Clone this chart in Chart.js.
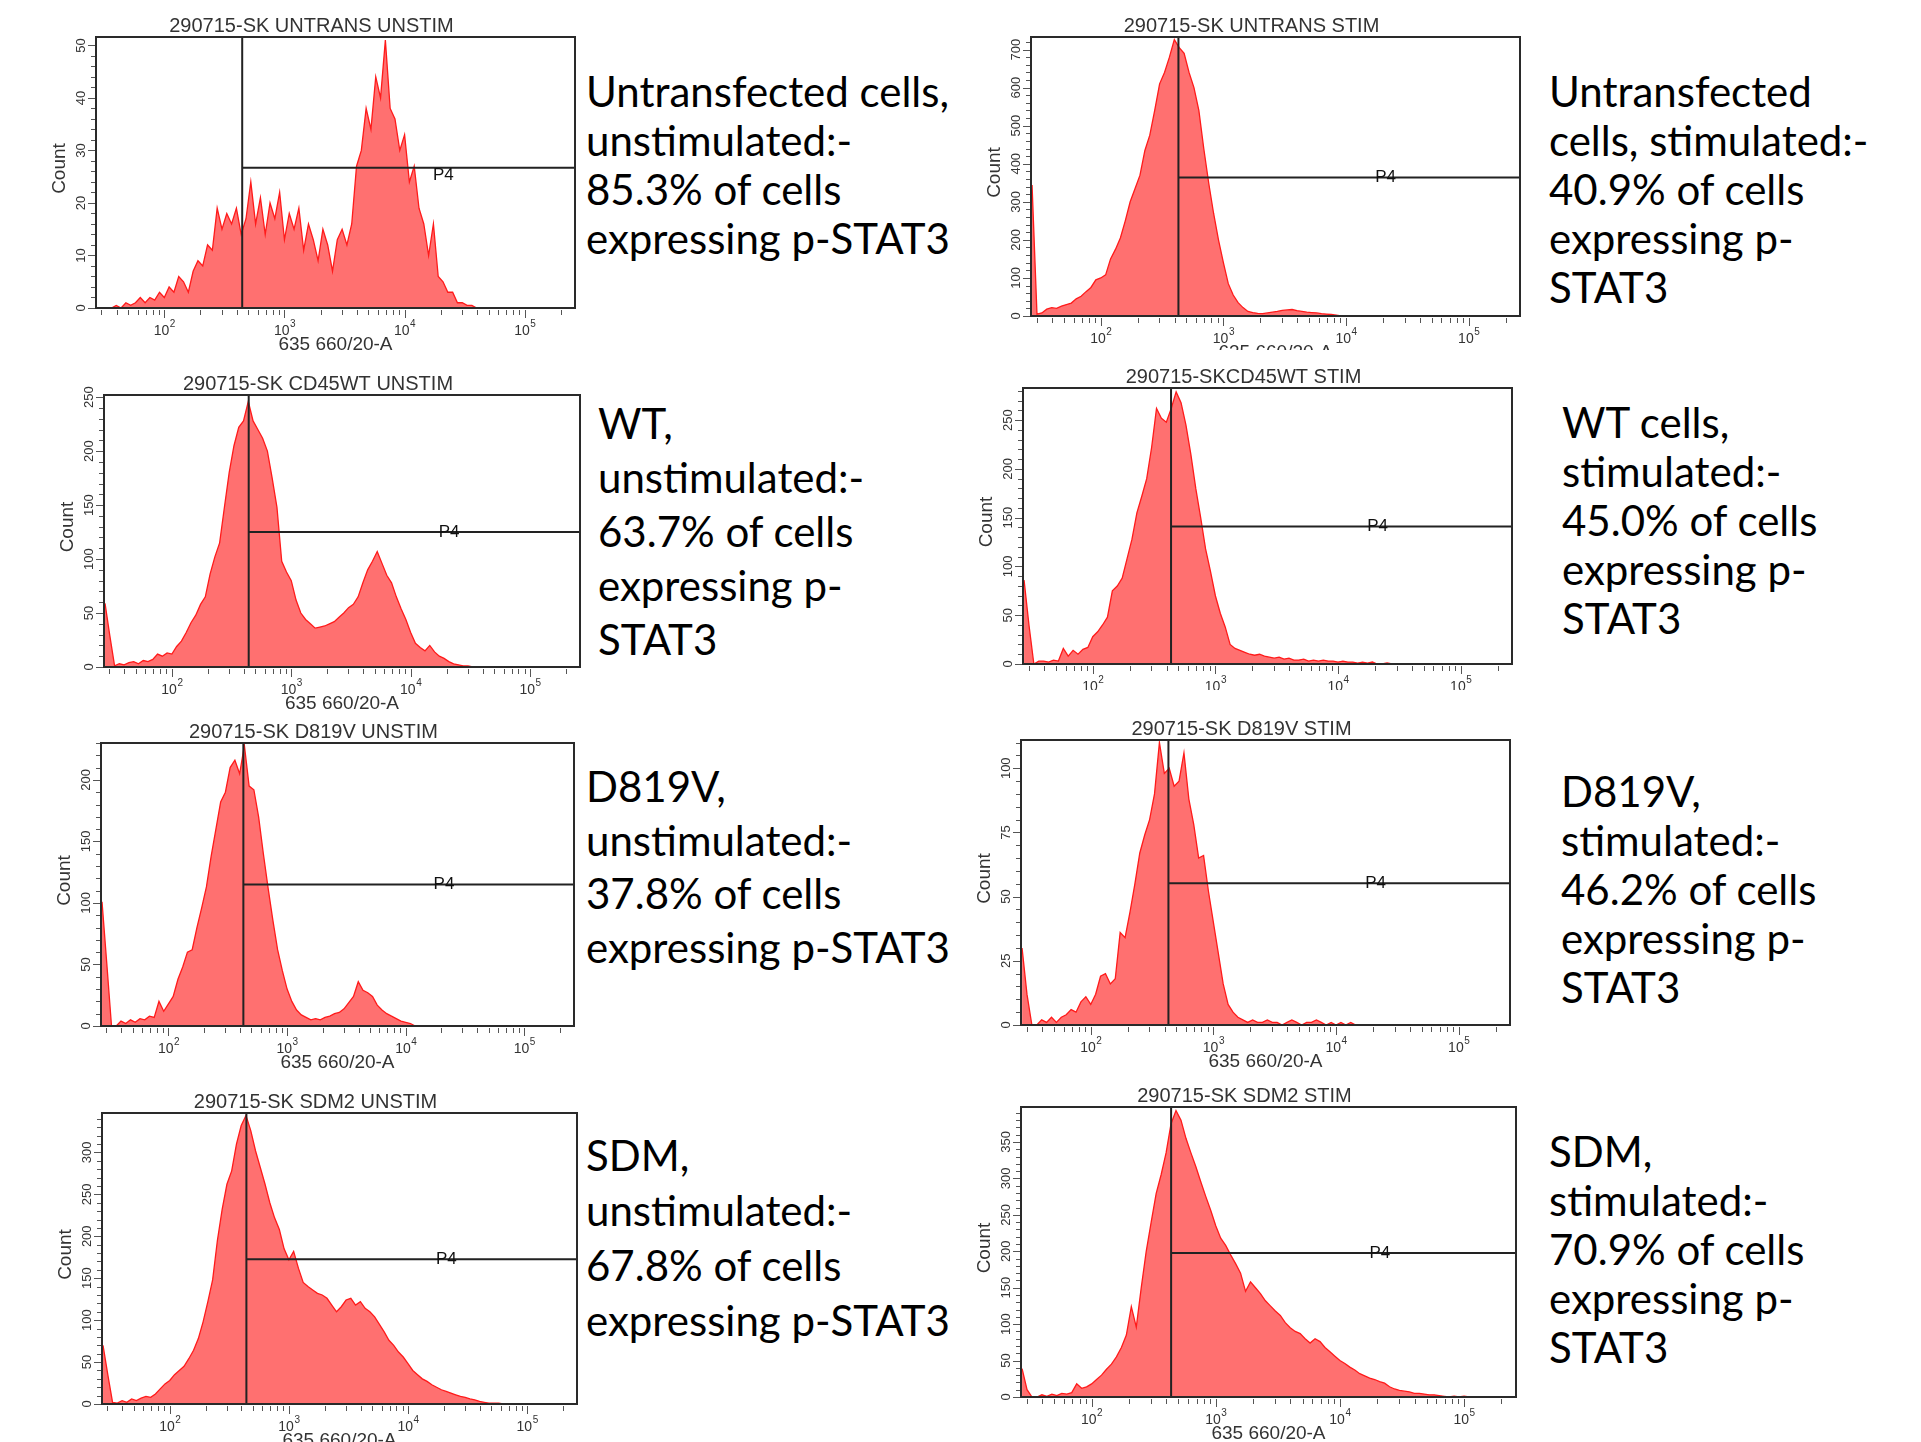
<!DOCTYPE html>
<html>
<head>
<meta charset="utf-8">
<script src="https://cdn.jsdelivr.net/npm/chart.js@4.4.1/dist/chart.umd.min.js"></script>
<style>
  html, body { margin: 0; padding: 0; background: #fff; }
  body { width: 1921px; height: 1442px; position: relative; overflow: hidden; }
  canvas { position: absolute; }
  .note { position: absolute; font-family: Lato, sans-serif; font-size: 42px; color: #000; white-space: pre; }
</style>
</head>
<body>
<script>
// histogram bin centres, log10 of 635 660/20-A
const binLog = [
  1.44, 1.48, 1.52, 1.56, 1.60, 1.64, 1.68, 1.72, 1.76, 1.80,
  1.84, 1.88, 1.92, 1.96, 2.00, 2.04, 2.08, 2.12, 2.16, 2.20,
  2.24, 2.28, 2.32, 2.36, 2.40, 2.44, 2.48, 2.52, 2.56, 2.60,
  2.64, 2.68, 2.72, 2.76, 2.80, 2.84, 2.88, 2.92, 2.96, 3.00,
  3.04, 3.08, 3.12, 3.16, 3.20, 3.24, 3.28, 3.32, 3.36, 3.40,
  3.44, 3.48, 3.52, 3.56, 3.60, 3.64, 3.68, 3.72, 3.76, 3.80,
  3.84, 3.88, 3.92, 3.96, 4.00, 4.04, 4.08, 4.12, 4.16, 4.20,
  4.24, 4.28, 4.32, 4.36, 4.40, 4.44, 4.48, 4.52, 4.56, 4.60,
  4.64, 4.68, 4.72, 4.76, 4.80, 4.84, 4.88, 4.92, 4.96, 5.00, 5.04
];

const titles = [
  "290715-SK UNTRANS UNSTIM", "290715-SK UNTRANS STIM",
  "290715-SK CD45WT UNSTIM", "290715-SKCD45WT STIM",
  "290715-SK D819V UNSTIM", "290715-SK D819V STIM",
  "290715-SK SDM2 UNSTIM", "290715-SK SDM2 STIM"
];
const xTitle = "635 660/20-A";
const xMin = 27;
const xMax = 262144;
const yMax = [51.6, 733, 252, 283, 230, 111, 347, 398];
const yStep = [10, 100, 50, 50, 50, 25, 50, 50];
const gateStart = [445, 430, 440, 435, 428, 430, 440, 437];
const gateLevel = [26.7, 364, 125, 141, 115, 55.2, 172.6, 197.6];
const gateName = "P4";
const gateLabelAt = 21000;

const counts1 = [0, 0, 0, 0, 0.5, 0, 1, 0.5, 1, 2,
  1, 2, 1.5, 3, 2, 4, 3, 6, 5, 3,
  7, 9, 8, 12, 11, 19, 15, 18, 16, 19,
  14, 17, 24, 16, 21, 14, 20, 17, 22, 13,
  18, 15, 19, 11, 16, 13, 9, 15, 12, 7,
  13, 15, 12, 16, 27, 30, 38, 34, 44, 40,
  51, 38, 36, 30, 33, 24, 27, 19, 16, 10,
  16, 6, 5, 3, 3, 1, 1, 0.5, 0.5, 0];
const counts2 = [344, 5, 8, 18, 22, 20, 26, 30, 34, 45,
  52, 64, 75, 95, 100, 108, 150, 175, 205, 250,
  300, 335, 370, 435, 475, 540, 610, 640, 680, 726,
  705, 690, 640, 600, 540, 440, 350, 270, 200, 140,
  85, 55, 35, 22, 12, 9, 7, 6, 8, 10,
  12, 15, 16, 17, 14, 12, 10, 9, 8, 6,
  5, 4, 2, 0];
const counts3 = [59, 29, 1, 3, 2, 4, 5, 3, 6, 5,
  7, 12, 10, 13, 12, 19, 24, 32, 41, 48,
  58, 65, 86, 102, 115, 148, 180, 205, 222, 228,
  246, 228, 220, 212, 200, 175, 148, 98, 88, 80,
  62, 50, 44, 40, 36, 37, 38, 40, 42, 46,
  50, 55, 58, 65, 78, 90, 98, 107, 96, 85,
  78, 65, 54, 44, 32, 22, 18, 15, 20, 14,
  10, 8, 5, 3, 2, 1, 1, 0];
const counts4 = [86, 40, 0, 3, 3, 2, 4, 3, 16, 8,
  14, 10, 15, 17, 28, 33, 40, 48, 75, 80,
  88, 108, 128, 155, 172, 190, 222, 262, 252, 248,
  262, 279, 268, 245, 215, 180, 150, 118, 95, 70,
  52, 38, 20, 16, 14, 12, 10, 9, 10, 8,
  7, 6, 7, 5, 6, 4, 4, 5, 3, 4,
  3, 4, 3, 3, 2, 3, 2, 2, 1, 2,
  1, 2, 0, 0, 1, 0];
const counts5 = [101, 51, 0, 0, 4, 2, 5, 3, 6, 5,
  8, 7, 20, 12, 18, 24, 38, 48, 60, 62,
  80, 96, 113, 138, 160, 182, 190, 210, 216, 205,
  228, 195, 192, 170, 140, 112, 86, 62, 45, 30,
  20, 13, 9, 7, 5, 6, 5, 7, 8, 10,
  11, 14, 19, 24, 36, 29, 27, 24, 17, 13,
  10, 8, 6, 4, 3, 2, 0];
const counts6 = [30, 12, 0, 0, 2, 1, 3, 1, 3, 4,
  6, 5, 9, 11, 8, 12, 19, 20, 16, 18,
  36, 34, 44, 55, 67, 74, 80, 90, 110, 98,
  100, 93, 95, 106, 88, 78, 65, 66, 52, 40,
  28, 16, 8, 5, 3, 2, 1, 2, 1, 1,
  2, 1, 1, 0, 1, 2, 1, 0, 1, 1,
  2, 1, 0, 1, 0, 1, 0, 1, 0];
const counts7 = [70, 35, 2, 1, 4, 2, 6, 4, 7, 9,
  8, 12, 18, 24, 28, 35, 40, 45, 54, 64,
  78, 98, 122, 148, 195, 232, 262, 278, 310, 332,
  344, 326, 302, 282, 262, 240, 222, 208, 185, 172,
  182, 162, 145, 140, 136, 132, 130, 126, 118, 110,
  116, 124, 126, 118, 122, 114, 110, 104, 95, 86,
  76, 70, 62, 56, 48, 40, 35, 30, 27, 23,
  20, 17, 15, 13, 11, 9, 8, 6, 5, 3,
  2, 1, 1, 1, 0];
const counts8 = [39, 10, 0, 0, 3, 1, 4, 2, 5, 4,
  6, 18, 12, 14, 18, 24, 30, 38, 45, 55,
  68, 85, 124, 96, 150, 200, 240, 279, 305, 335,
  375, 393, 380, 355, 335, 316, 295, 275, 256, 235,
  218, 208, 195, 183, 170, 145, 158, 150, 142, 132,
  125, 118, 112, 102, 95, 90, 87, 80, 74, 80,
  76, 68, 62, 56, 50, 46, 41, 37, 32, 29,
  26, 24, 21, 19, 14, 11, 9, 8, 7, 5,
  5, 4, 3, 3, 2, 1, 0, 1, 0, 1, 0];
const allCounts = [counts1, counts2, counts3, counts4, counts5, counts6, counts7, counts8];

const notes = [
  "Untransfected cells,\nunstimulated:-\n85.3% of cells\nexpressing p-STAT3",
  "Untransfected\ncells, stimulated:-\n40.9% of cells\nexpressing p-\nSTAT3",
  "WT,\nunstimulated:-\n63.7% of cells\nexpressing p-\nSTAT3",
  "WT cells,\nstimulated:-\n45.0% of cells\nexpressing p-\nSTAT3",
  "D819V,\nunstimulated:-\n37.8% of cells\nexpressing p-STAT3",
  "D819V,\nstimulated:-\n46.2% of cells\nexpressing p-\nSTAT3",
  "SDM,\nunstimulated:-\n67.8% of cells\nexpressing p-STAT3",
  "SDM,\nstimulated:-\n70.9% of cells\nexpressing p-\nSTAT3"
];

// layout: plot box [left, top, right, bottom], where the panel is cut off, note placement
const boxes = [
  [96, 37, 575, 308], [1031, 37, 1520, 316],
  [104, 395, 580, 667], [1023, 388, 1512, 664],
  [101, 743, 574, 1026], [1021, 740, 1510, 1025],
  [102, 1113, 577, 1404], [1021, 1107, 1516, 1397]
];
const cutBottom = [372, 350, 720, 690, 1085, 1082, 1442, 1442];
const labelDy = [8, 0, 0, 0, 0, 0, 0, 0];
const notePos = [
  [586, 67, 49], [1549, 67, 49],
  [598, 396, 54], [1562, 398, 49],
  [586, 760, 53.5], [1561, 767, 49],
  [586, 1128, 55], [1549, 1127, 49]
];

const AXIS_FONT = '"Liberation Sans", Arial, sans-serif';
const INK = "#333";

const facsAxes = {
  id: "facsAxes",
  afterDatasetsDraw(chart, args, opts) {
    const { ctx, chartArea: a } = chart;
    const x = chart.scales.x, y = chart.scales.y;
    const p = opts.panel;
    ctx.save();

    // gate lines
    const gx = x.getPixelForValue(gateStart[p]);
    const gy = y.getPixelForValue(gateLevel[p]);
    ctx.strokeStyle = "#222";
    ctx.lineWidth = 2;
    ctx.beginPath();
    ctx.moveTo(gx, a.top);
    ctx.lineTo(gx, a.bottom);
    ctx.moveTo(gx, gy);
    ctx.lineTo(a.right, gy);
    ctx.stroke();
    ctx.fillStyle = "#111";
    ctx.font = "17px " + AXIS_FONT;
    ctx.textAlign = "center";
    ctx.textBaseline = "middle";
    ctx.fillText(gateName, x.getPixelForValue(gateLabelAt), gy + labelDy[p]);

    // frame
    ctx.strokeStyle = "#2a2a2a";
    ctx.strokeRect(a.left, a.top, a.right - a.left, a.bottom - a.top);

    // y ticks and labels
    ctx.lineWidth = 1;
    ctx.strokeStyle = "#555";
    const minor = yStep[p] / 5;
    ctx.beginPath();
    for (let k = 0; k * minor <= yMax[p]; k++) {
      const py = Math.round(y.getPixelForValue(k * minor)) + 0.5;
      const len = k % 5 === 0 ? 7 : 4;
      ctx.moveTo(a.left - 1 - len, py);
      ctx.lineTo(a.left - 1, py);
    }
    ctx.stroke();
    ctx.fillStyle = INK;
    ctx.font = "13px " + AXIS_FONT;
    for (let k = 0; k * yStep[p] <= yMax[p]; k++) {
      const py = y.getPixelForValue(k * yStep[p]);
      ctx.save();
      ctx.translate(a.left - 15, py);
      ctx.rotate(-Math.PI / 2);
      ctx.fillText(String(k * yStep[p]), 0, 0);
      ctx.restore();
    }
    ctx.save();
    ctx.font = "19px " + AXIS_FONT;
    ctx.translate(a.left - 36, (a.top + a.bottom) / 2 - 4);
    ctx.rotate(-Math.PI / 2);
    ctx.fillText("Count", 0, 0);
    ctx.restore();

    // x ticks (log decades)
    ctx.beginPath();
    for (let e = 1; e <= 5; e++) {
      for (let m = 1; m <= 9; m++) {
        const v = m * Math.pow(10, e);
        if (v < xMin || v > xMax) continue;
        const px = Math.round(x.getPixelForValue(v)) + 0.5;
        const len = m === 1 ? 8 : 5;
        ctx.moveTo(px, a.bottom + 2);
        ctx.lineTo(px, a.bottom + 2 + len);
      }
    }
    ctx.stroke();
    for (let e = 2; e <= 5; e++) {
      const px = x.getPixelForValue(Math.pow(10, e));
      ctx.font = "14px " + AXIS_FONT;
      const w1 = ctx.measureText("10").width;
      ctx.font = "10px " + AXIS_FONT;
      const w2 = ctx.measureText(String(e)).width;
      const x0 = px - (w1 + w2) / 2;
      ctx.textAlign = "left";
      ctx.textBaseline = "alphabetic";
      ctx.font = "14px " + AXIS_FONT;
      ctx.fillText("10", x0, a.bottom + 27);
      ctx.font = "10px " + AXIS_FONT;
      ctx.fillText(String(e), x0 + w1 + 0.5, a.bottom + 19);
    }
    ctx.textAlign = "center";
    ctx.font = "19px " + AXIS_FONT;
    ctx.fillText(xTitle, (a.left + a.right) / 2, a.bottom + 42);

    // panel title
    ctx.font = "20px " + AXIS_FONT;
    ctx.fillText(titles[p], (a.left + a.right) / 2 - 24, a.top - 5);

    ctx.restore();
  }
};

boxes.forEach((b, p) => {
  const L = b[0] - 72, T = b[1] - 42, R = b[2] + 4, B = cutBottom[p];
  const c = document.createElement("canvas");
  c.width = R - L;
  c.height = B - T;
  c.style.left = L + "px";
  c.style.top = T + "px";
  c.style.width = (R - L) + "px";
  c.style.height = (B - T) + "px";
  document.body.appendChild(c);

  const points = allCounts[p].map((v, i) => ({ x: Math.pow(10, binLog[i]), y: v }));

  new Chart(c, {
    type: "line",
    data: {
      datasets: [{
        data: points,
        borderColor: "#ff1a1a",
        borderWidth: 1.3,
        backgroundColor: "#ff7070",
        fill: "origin",
        tension: 0,
        pointRadius: 0
      }]
    },
    options: {
      responsive: false,
      devicePixelRatio: 1,
      animation: false,
      layout: { padding: { left: 72, top: 42, right: 4, bottom: B - b[3] } },
      plugins: {
        legend: { display: false },
        tooltip: { enabled: false },
        facsAxes: { panel: p }
      },
      scales: {
        x: { type: "logarithmic", display: false, min: xMin, max: xMax },
        y: { type: "linear", display: false, min: 0, max: yMax[p] }
      }
    },
    plugins: [facsAxes]
  });

  const n = document.createElement("div");
  n.className = "note";
  n.style.left = notePos[p][0] + "px";
  n.style.top = notePos[p][1] + "px";
  n.style.lineHeight = notePos[p][2] + "px";
  n.textContent = notes[p];
  document.body.appendChild(n);
});
</script>
</body>
</html>
